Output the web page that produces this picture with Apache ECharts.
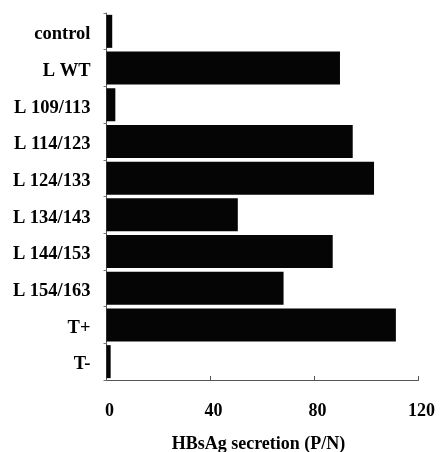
<!DOCTYPE html>
<html><head><meta charset="utf-8">
<script src="https://cdn.jsdelivr.net/npm/echarts@6/dist/echarts.min.js"></script>
<style>html,body{margin:0;padding:0;background:#fff}#c{width:443px;height:452px}</style>
</head><body><div id="c"></div>
<script>
const categories = ['control','L WT','L 109/113','L 114/123','L 124/133','L 134/143','L 144/153','L 154/163','T+','T-'];
const values = [2.2, 89.8, 3.4, 94.7, 102.9, 50.5, 87, 68.1, 111.3, 1.6];
const xTicks = [0, 40, 80, 120];
const font = 'Liberation Serif, Times New Roman, serif';
const chart = echarts.init(document.getElementById('c'), null, {renderer:'canvas'});
chart.setOption({
  animation:false,
  grid:{left:106.5, right:24.5, top:13, bottom:72, containLabel:false, outerBoundsMode:'none'},
  xAxis:{type:'value', min:xTicks[0], max:xTicks[xTicks.length-1], interval:40,
    name:'HBsAg secretion (P/N)', nameLocation:'middle', nameGap:55,
    nameTextStyle:{fontFamily:font, fontWeight:'bold', fontSize:18, color:'#000', padding:[0,8,0,0]},
    axisLine:{show:true, lineStyle:{color:'#555', width:1}},
    axisTick:{show:true, inside:true, length:4, lineStyle:{color:'#555'}},
    axisLabel:{margin:22, fontFamily:font, fontWeight:'bold', fontSize:18, color:'#000', padding:[0,0,0,6]},
    splitLine:{show:false}},
  yAxis:{type:'category', data:categories, inverse:true,
    axisLine:{show:true, lineStyle:{color:'#555', width:1}},
    axisTick:{show:true, length:3, lineStyle:{color:'#777'}},
    axisLabel:{margin:16, formatter: v => '{a|' + v + '}',
      rich:{a:{fontFamily:font, fontWeight:'bold', fontSize:18.5, color:'#000', padding:[6,0,0,0]}}}},
  series:[{type:'bar', data:values, barCategoryGap:'10%', itemStyle:{color:'#050505'}}]
});
</script></body></html>
